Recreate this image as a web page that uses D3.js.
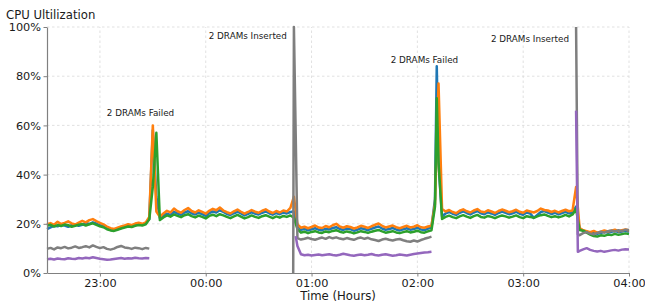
<!DOCTYPE html>
<html>
<head>
<meta charset="utf-8">
<style>
  body { margin: 0; background: #fff; }
  svg { display: block; }
  text { font-family: "DejaVu Sans", sans-serif; fill: #1a1a1a; }
  .grid line { stroke: #d9d9d9; stroke-width: 0.8; stroke-dasharray: 2.5,2.5; }
  .axis path, .axis line { stroke: #808080; }
  .axis text { font-size: 11.3px; fill: #1a1a1a; }
  .series { fill: none; stroke-width: 2.5; stroke-linejoin: round; }
  .note { font-size: 8.8px; }
</style>
</head>
<body>
<script src="https://d3js.org/d3.v7.min.js"></script>
<script>

// samples every 2 minutes, starting at 22:30 (minute 0) up to 04:00 (minute 330)
var startTime = new Date(2024, 0, 1, 22, 30);
var stepMinutes = 2;

var blue = [
  17.8, 18.5, 19.2, 19.0, 19.6, 19.3, 18.8, 19.4, 19.8, 19.2,
  19.6, 20.4, 19.9, 20.6, 20.1, 19.4, 19.0, 18.2, 17.6, 17.4,
  17.9, 18.3, 18.8, 19.1, 18.9, 19.5, 19.8, 19.6, 20.2, 22.0,
  58.0, 31.0, 22.3, 23.4, 24.1, 23.6, 24.8, 24.2, 23.7, 24.6,
  25.1, 24.3, 23.8, 24.5, 23.9, 23.2, 24.4, 25.0, 24.6, 25.5,
  24.8, 24.0, 23.6, 24.3, 24.9, 24.2, 23.4, 24.0, 24.7, 24.1,
  23.8, 24.5, 25.0, 24.3, 23.7, 24.4, 23.9, 24.6, 24.2, 24.8,
  25.0, 19.5, 17.6, 17.9, 17.3, 17.8, 18.2, 17.6, 17.4, 18.0,
  17.7, 18.3, 18.6, 17.9, 17.5, 18.1, 17.8, 17.2, 17.6, 18.2,
  17.9, 17.4, 18.0, 18.5, 18.9, 18.1, 17.6, 17.9, 18.3, 17.7,
  17.3, 17.8, 18.2, 17.6, 17.9, 18.4, 17.7, 17.5, 18.0, 18.6,
  30.0, 45.0, 23.0, 24.2, 24.8, 24.1, 23.6, 24.5, 25.1, 24.4,
  23.8, 24.6, 25.2, 24.3, 23.9, 24.7, 24.2, 23.6, 24.4, 25.0,
  24.5, 23.9, 24.3, 24.9, 24.1, 23.7, 24.6, 24.2, 22.4, 23.6,
  24.8, 25.2, 24.6, 24.0, 24.5, 23.8, 24.4, 24.9, 24.3, 24.6,
  27.0, 18.0, 17.2, 16.8, 16.3, 16.6, 15.9, 16.2, 16.8, 16.4,
  16.7, 17.1, 16.6, 16.9, 17.2, 16.8
];

var orange = [
  19.8, 20.3, 19.6, 20.8, 19.9, 20.4, 21.0, 20.2, 19.7, 20.5,
  21.2, 20.6, 21.5, 21.9, 21.1, 20.4, 19.8, 18.9, 18.2, 17.9,
  18.4, 18.9, 19.3, 19.8, 19.5, 20.1, 20.4, 20.0, 20.6, 22.8,
  60.0, 25.0, 22.8, 24.2, 25.3, 24.6, 26.2, 25.1, 24.5, 25.6,
  26.4, 25.2, 24.6, 25.5, 24.8, 24.1, 25.3, 26.1, 25.5, 26.6,
  25.4, 24.7, 24.2, 25.1, 25.8, 24.9, 24.1, 24.8, 25.6, 24.9,
  24.5, 25.3, 25.9, 25.0, 24.4, 25.2, 24.6, 25.4, 25.0, 26.5,
  31.0, 19.8, 18.4, 18.8, 18.2, 18.7, 19.3, 18.5, 18.3, 19.1,
  18.6, 19.4, 20.0, 18.9, 18.4, 19.0, 18.7, 18.1, 18.5, 19.2,
  18.8, 18.3, 19.0, 19.6, 20.1, 19.2, 18.5, 18.9, 19.3, 18.6,
  18.2, 18.7, 19.2, 18.5, 18.8, 19.4, 18.6, 18.4, 18.9, 19.2,
  28.0, 77.0, 26.0, 25.0, 25.6, 24.8, 24.3, 25.3, 25.9, 25.1,
  24.6, 25.4, 26.0, 25.0, 24.7, 25.5, 25.0, 24.4, 25.2, 25.8,
  25.3, 24.7, 25.1, 25.7, 24.9, 24.5, 25.4, 25.0, 24.6, 25.2,
  26.2, 25.6, 25.4, 24.8, 25.3, 24.6, 25.2, 25.7, 25.1, 25.4,
  35.0, 18.3, 17.4, 17.0, 16.6, 17.1, 16.4, 16.8, 17.3, 16.9,
  17.2, 17.6, 17.0, 17.4, 17.7, 17.3
];

var green = [
  19.2, 19.6, 18.9, 19.5, 19.1, 19.7, 19.4, 18.8, 19.2, 19.6,
  19.9, 19.3, 19.8, 20.2, 19.6, 19.0, 18.6, 17.8, 17.3, 17.1,
  17.6, 18.1, 18.5, 18.9, 18.7, 19.2, 19.5, 19.3, 19.8, 21.8,
  35.0, 57.0, 21.5, 22.6, 23.4, 22.9, 23.8, 23.2, 22.7, 23.5,
  23.9, 23.1, 22.6, 23.3, 22.8, 22.2, 23.2, 23.7, 23.1, 23.9,
  23.4, 22.8, 22.3, 23.0, 23.6, 22.9, 22.2, 22.7, 23.4, 22.8,
  22.4, 23.1, 23.5, 22.9, 22.3, 23.0, 22.5, 23.2, 22.8, 23.4,
  22.5, 17.8, 16.4, 16.8, 16.2, 16.7, 17.0, 16.5, 16.3, 16.9,
  16.6, 17.1, 17.4, 16.8, 16.4, 16.9, 16.6, 16.1, 16.5, 17.0,
  16.7, 16.3, 16.8, 17.2, 17.5, 16.9, 16.4, 16.7, 17.0, 16.5,
  16.2, 16.6, 17.0, 16.5, 16.8, 17.2, 16.6, 16.4, 16.9, 17.4,
  27.0, 45.0, 22.0, 22.8, 23.3, 22.7, 22.3, 23.0, 23.5, 22.9,
  22.4, 23.1, 23.6, 22.8, 22.5, 23.2, 22.8, 22.3, 22.9, 23.4,
  23.0, 22.5, 22.9, 23.4, 22.7, 22.3, 23.1, 22.8, 22.4, 23.0,
  23.5, 23.8, 23.2, 22.7, 23.1, 22.6, 23.0, 23.6, 23.0, 23.8,
  26.0, 17.5, 17.2, 16.4, 15.6, 15.0, 14.8, 15.3, 15.1, 15.6,
  15.4, 15.9, 15.5, 15.8, 16.1, 15.8
];

var N = null;
var gray = [
  9.8, 10.2, 9.6, 10.4, 10.1, 10.6, 10.0, 10.3, 10.8, 10.2,
  10.5, 10.9, 10.4, 11.2, 10.6, 10.1, 10.5, 9.8, 9.5, 9.9,
  10.6, 11.0, 10.4, 10.2, 9.8, 10.3, 10.1, 9.7, 10.2, 9.9,
  N, N, N, N, N, N, N, N, N, N,
  N, N, N, N, N, N, N, N, N, N,
  N, N, N, N, N, N, N, N, N, N,
  N, N, N, N, N, N, N, N, N, N,
  100, 14.2, 13.6, 13.9, 14.3, 13.8, 13.5, 14.0, 14.4, 13.9,
  14.6, 14.1, 14.5, 14.0, 13.7, 14.2, 13.8, 13.5, 14.1, 14.4,
  13.9, 14.3, 13.7, 13.4, 13.0, 13.6, 13.9, 13.5, 13.2, 13.6,
  13.8, 13.3, 12.9, 12.7, 13.2, 12.8, 13.4, 13.9, 14.3, 14.8,
  N, N, N, N, N, N, N, N, N, N,
  N, N, N, N, N, N, N, N, N, N,
  N, N, N, N, N, N, N, N, N, N,
  N, N, N, N, N, N, N, N, N, N,
  100, 15.4, 16.2, 16.6, 16.0, 15.7, 16.3, 16.8, 16.4, 17.0,
  17.3, 16.9, 17.4, 17.0, 17.6, 17.5
];

var purple = [
  5.6, 5.8, 5.5, 5.9, 5.7, 5.6, 6.0, 5.8, 5.7, 6.1,
  5.9, 6.2, 6.0, 6.4, 6.1, 5.8, 5.6, 5.4, 5.5, 5.7,
  5.9, 6.1, 5.8, 6.0, 5.9, 6.2, 6.0, 5.9, 6.1, 6.0,
  N, N, N, N, N, N, N, N, N, N,
  N, N, N, N, N, N, N, N, N, N,
  N, N, N, N, N, N, N, N, N, N,
  N, N, N, N, N, N, N, N, N, N,
  N, 11.0, 7.6, 7.2, 7.4, 7.1, 7.3, 7.5, 7.2, 7.4,
  7.6, 7.3, 7.1, 7.4, 7.8, 7.5, 7.2, 7.0, 7.3, 7.5,
  7.2, 7.4, 7.7, 7.3, 7.1, 7.4, 7.6, 7.3, 7.0, 7.2,
  7.5, 7.3, 7.1, 7.4, 7.7, 7.9, 8.1, 8.3, 8.4, 8.6,
  N, N, N, N, N, N, N, N, N, N,
  N, N, N, N, N, N, N, N, N, N,
  N, N, N, N, N, N, N, N, N, N,
  N, N, N, N, N, N, N, N, N, N,
  66.0, 9.0, 9.6, 10.1, 9.4, 9.0, 8.7, 9.0, 8.6, 8.9,
  9.2, 9.4, 9.1, 9.5, 9.7, 9.6
];

// extra readings between the 2-minute samples, [minute, value]
var blueExtra = [[221, 84]];
var orangeExtra = [];
var greenExtra = [[221, 71]];
var grayExtra = [[139.6, 0], [301, 15.8]];
var purpleExtra = [[141, 15], [301, 8.6]];

var yTicks = [0, 20, 40, 60, 80, 100];

var notes = ["2 DRAMs Failed", "2 DRAMs Inserted", "2 DRAMs Failed", "2 DRAMs Inserted"];
var noteMinutes = [53, 136, 214, 296];
var noteValues = [63.8, 95.1, 85.2, 93.9];
var noteAnchor = ["middle", "end", "middle", "end"];

var width = 645, height = 303;
var margin = {top: 27, right: 16, bottom: 30, left: 47};

function toTime(m) { return new Date(startTime.getTime() + m * 60000); }

var x = d3.scaleTime()
    .domain([toTime(0), toTime(330)])
    .range([margin.left, width - margin.right]);

var y = d3.scaleLinear()
    .domain([0, 100])
    .range([height - margin.bottom, margin.top]);

var svg = d3.select("body").append("svg")
    .attr("width", width)
    .attr("height", height);

// grid
var hourTicks = x.ticks(d3.timeHour.every(1));
var grid = svg.append("g").attr("class", "grid");
grid.selectAll(".gx")
    .data(hourTicks)
  .enter().append("line")
    .attr("x1", function(d) { return x(d); })
    .attr("x2", function(d) { return x(d); })
    .attr("y1", y(0))
    .attr("y2", y(100));
grid.selectAll(".gy")
    .data(yTicks.slice(1))
  .enter().append("line")
    .attr("x1", x.range()[0])
    .attr("x2", x.range()[1])
    .attr("y1", function(d) { return y(d); })
    .attr("y2", function(d) { return y(d); });

// series
function buildPoints(values, extra) {
  var pts = values.map(function(v, i) { return {m: i * stepMinutes, v: v}; });
  extra.forEach(function(e) { pts.push({m: e[0], v: e[1]}); });
  pts.sort(function(a, b) { return a.m - b.m; });
  return pts;
}

var series = [
  {values: blue, extra: blueExtra, color: "#1f77b4"},
  {values: orange, extra: orangeExtra, color: "#ff7f0e"},
  {values: green, extra: greenExtra, color: "#2ca02c"},
  {values: gray, extra: grayExtra, color: "#7f7f7f"},
  {values: purple, extra: purpleExtra, color: "#9467bd"}
];

var line = d3.line()
    .defined(function(d) { return d.v != null; })
    .x(function(d) { return x(toTime(d.m)); })
    .y(function(d) { return y(d.v); });

svg.append("g").selectAll("path")
    .data(series)
  .enter().append("path")
    .attr("class", "series")
    .attr("stroke", function(d) { return d.color; })
    .attr("d", function(d) { return line(buildPoints(d.values, d.extra)); });

// axes
var yAxis = svg.append("g")
    .attr("class", "axis")
    .attr("transform", "translate(" + margin.left + ",0)")
    .call(d3.axisLeft(y).tickValues(yTicks).tickFormat(function(d) { return d + "%"; })
      .tickSizeInner(3.5).tickSizeOuter(0).tickPadding(2.5));

var xAxis = svg.append("g")
    .attr("class", "axis")
    .attr("transform", "translate(0," + y(0) + ")")
    .call(d3.axisBottom(x).tickValues(hourTicks).tickFormat(d3.timeFormat("%H:%M"))
      .tickSizeInner(3.5).tickSizeOuter(0).tickPadding(2.5));

svg.selectAll(".axis .domain").attr("stroke-width", 1.2);

// labels
svg.append("text")
    .attr("x", 6)
    .attr("y", 19)
    .style("font-size", "11.7px")
    .text("CPU Ultilization");

svg.append("text")
    .attr("x", (x.range()[0] + x.range()[1]) / 2)
    .attr("y", 300)
    .attr("text-anchor", "middle")
    .style("font-size", "11.7px")
    .text("Time (Hours)");

svg.selectAll(".note")
    .data(notes)
  .enter().append("text")
    .attr("class", "note")
    .attr("x", function(d, i) { return x(toTime(noteMinutes[i])); })
    .attr("y", function(d, i) { return y(noteValues[i]); })
    .attr("text-anchor", function(d, i) { return noteAnchor[i]; })
    .text(function(d) { return d; });

</script>
</body>
</html>
